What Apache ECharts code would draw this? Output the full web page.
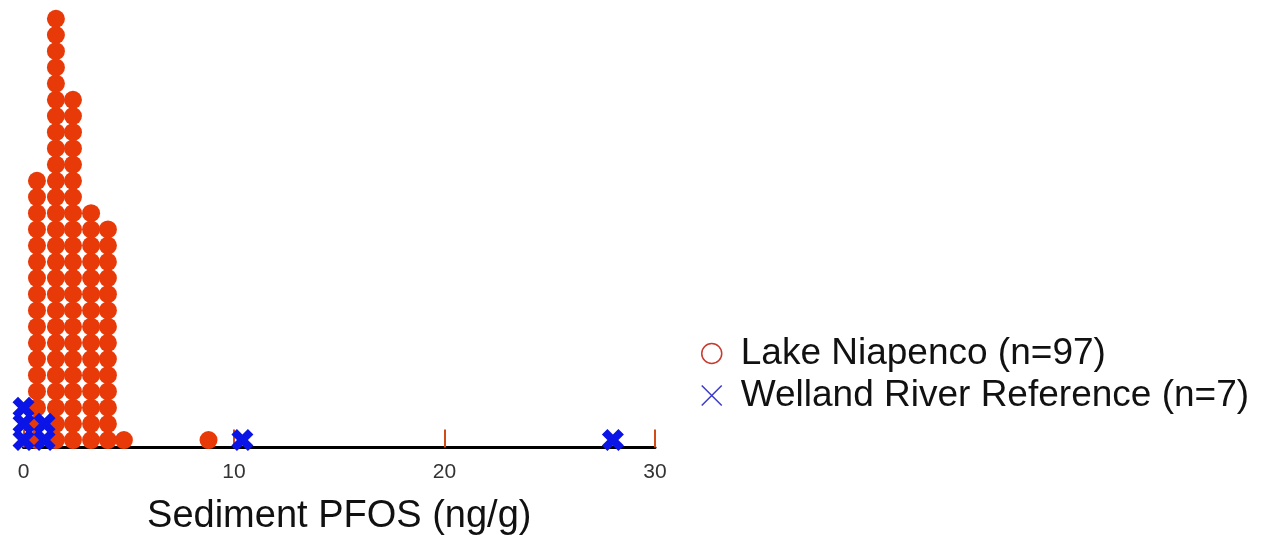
<!DOCTYPE html>
<html>
<head>
<meta charset="utf-8">
<script src="https://cdn.jsdelivr.net/npm/echarts@6/dist/echarts.min.js"></script>
<style>
html,body{margin:0;padding:0;background:#fff;}
#chart{width:1263px;height:535px;}
</style>
</head>
<body>
<div id="chart"></div>
<script>
// Dot plot data: bin positions (ng/g) and number of stacked dots per bin
var lakeBins = [0.64, 1.54, 2.35, 3.21, 4.01, 4.77, 8.79];
var lakeCounts = [17, 27, 22, 15, 14, 1, 1];
var riverBins = [0.0, 1.0, 10.4, 28.0];
var riverCounts = [3, 2, 1, 1];
var xTicks = [0, 10, 20, 30];
var lakeName = 'Lake Niapenco (n=97)';
var riverName = 'Welland River Reference (n=7)';
var axisTitle = 'Sediment PFOS (ng/g)';

function stack(bins, counts) {
  var pts = [];
  for (var b = 0; b < bins.length; b++) {
    for (var i = 0; i < counts[b]; i++) pts.push([bins[b], i]);
  }
  return pts;
}

var FONT = '"Liberation Sans", Arial, sans-serif';
var crossPath = 'path://M5,0 L10,5 L15,0 L20,5 L15,10 L20,15 L15,20 L10,15 L5,20 L0,15 L5,10 L0,5 Z';

var chart = echarts.init(document.getElementById('chart'));
chart.setOption({
  animation: false,
  backgroundColor: '#ffffff',
  grid: { left: 23.5, width: 631.5, top: 0, height: 447.5, outerBoundsMode: 'none', containLabel: false },
  legend: {
    orient: 'vertical',
    left: 696,
    top: 330,
    itemWidth: 20,
    itemHeight: 20,
    itemGap: 5,
    textStyle: { fontFamily: FONT, fontSize: 37, color: '#111', padding: [0, 0, 0, 14] },
    data: [
      { name: lakeName, icon: 'circle', itemStyle: { color: 'transparent', borderColor: '#c83a30', borderWidth: 1.5, opacity: 1 } },
      { name: riverName, icon: 'path://M0,0 L20,20 M20,0 L0,20', itemStyle: { color: 'transparent', borderColor: '#3a3ac8', borderWidth: 1.5, opacity: 1 } }
    ]
  },
  xAxis: {
    type: 'value',
    min: xTicks[0],
    max: xTicks[xTicks.length - 1],
    interval: 10,
    splitLine: { show: false },
    axisLine: { show: true, onZero: false, lineStyle: { color: '#000', width: 3 } },
    axisTick: { show: true, inside: true, length: 18, lineStyle: { color: '#d24a1a', width: 2 } },
    axisLabel: { fontFamily: FONT, fontSize: 21, color: '#333', margin: 14 },
    name: axisTitle,
    nameLocation: 'middle',
    nameGap: 50,
    nameTextStyle: { fontFamily: FONT, fontSize: 38, color: '#111' }
  },
  yAxis: {
    type: 'value',
    show: false,
    min: -0.46,
    max: 27.16
  },
  series: [
    {
      name: lakeName,
      type: 'scatter',
      symbol: 'circle',
      symbolSize: 18,
      itemStyle: { color: '#e83a08', opacity: 1 },
      data: stack(lakeBins, lakeCounts),
      z: 2
    },
    {
      name: riverName,
      type: 'scatter',
      symbol: crossPath,
      symbolSize: 22,
      itemStyle: { color: '#0a14e6', opacity: 1 },
      data: stack(riverBins, riverCounts),
      z: 3
    }
  ]
});
</script>
</body>
</html>
